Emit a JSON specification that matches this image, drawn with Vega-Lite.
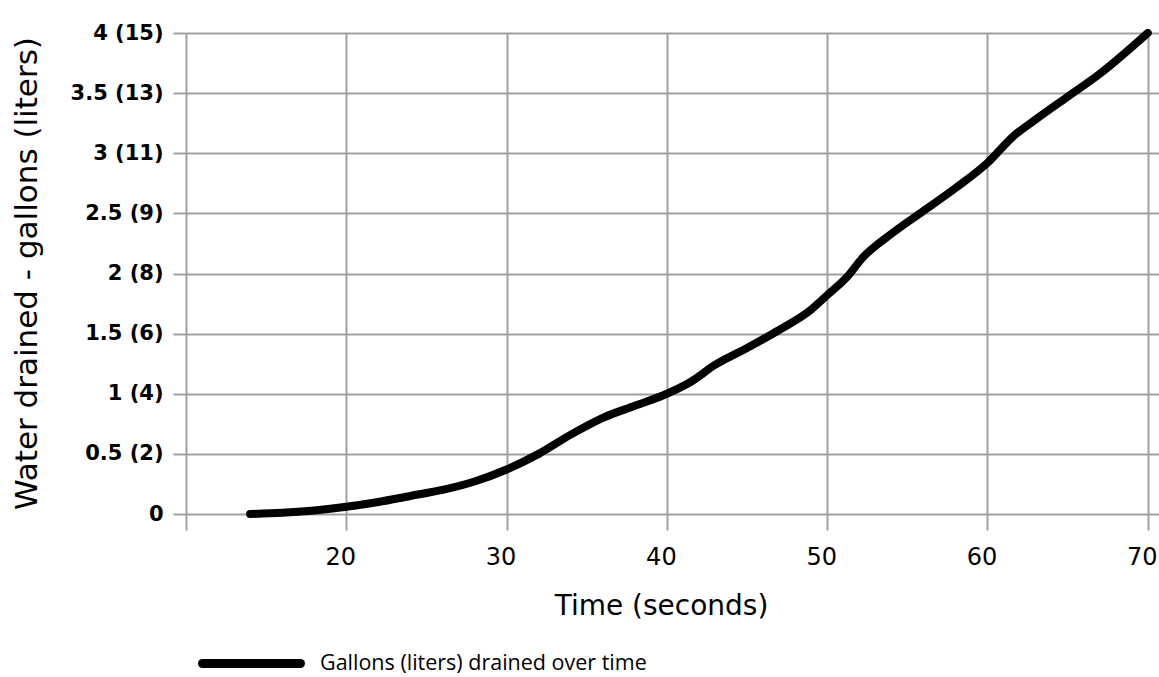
{
  "$schema": "https://vega.github.io/schema/vega-lite/v6.json",
  "autosize": {"type": "none"},
  "padding": {"left": 186, "top": 33, "right": 0, "bottom": 163},
  "width": 973,
  "height": 481,
  "background": "#ffffff",
  "config": {
    "view": {"stroke": null},
    "font": "DejaVu Sans"
  },
  "data": {
    "values": [
      {"time": 14, "gallons": 0, "series": "Gallons (liters) drained over time"},
      {"time": 16, "gallons": 0.01, "series": "Gallons (liters) drained over time"},
      {"time": 18, "gallons": 0.03, "series": "Gallons (liters) drained over time"},
      {"time": 20, "gallons": 0.06, "series": "Gallons (liters) drained over time"},
      {"time": 22, "gallons": 0.1, "series": "Gallons (liters) drained over time"},
      {"time": 24, "gallons": 0.15, "series": "Gallons (liters) drained over time"},
      {"time": 26, "gallons": 0.2, "series": "Gallons (liters) drained over time"},
      {"time": 28, "gallons": 0.27, "series": "Gallons (liters) drained over time"},
      {"time": 30, "gallons": 0.37, "series": "Gallons (liters) drained over time"},
      {"time": 32, "gallons": 0.5, "series": "Gallons (liters) drained over time"},
      {"time": 34, "gallons": 0.66, "series": "Gallons (liters) drained over time"},
      {"time": 36, "gallons": 0.8, "series": "Gallons (liters) drained over time"},
      {"time": 38, "gallons": 0.9, "series": "Gallons (liters) drained over time"},
      {"time": 40, "gallons": 1.0, "series": "Gallons (liters) drained over time"},
      {"time": 41.5, "gallons": 1.1, "series": "Gallons (liters) drained over time"},
      {"time": 43, "gallons": 1.24, "series": "Gallons (liters) drained over time"},
      {"time": 45, "gallons": 1.38, "series": "Gallons (liters) drained over time"},
      {"time": 47, "gallons": 1.53, "series": "Gallons (liters) drained over time"},
      {"time": 49, "gallons": 1.7, "series": "Gallons (liters) drained over time"},
      {"time": 50, "gallons": 1.82, "series": "Gallons (liters) drained over time"},
      {"time": 51.3, "gallons": 1.98, "series": "Gallons (liters) drained over time"},
      {"time": 52.2, "gallons": 2.13, "series": "Gallons (liters) drained over time"},
      {"time": 54, "gallons": 2.33, "series": "Gallons (liters) drained over time"},
      {"time": 56, "gallons": 2.52, "series": "Gallons (liters) drained over time"},
      {"time": 58, "gallons": 2.71, "series": "Gallons (liters) drained over time"},
      {"time": 60, "gallons": 2.92, "series": "Gallons (liters) drained over time"},
      {"time": 61.6, "gallons": 3.14, "series": "Gallons (liters) drained over time"},
      {"time": 63, "gallons": 3.28, "series": "Gallons (liters) drained over time"},
      {"time": 65, "gallons": 3.47, "series": "Gallons (liters) drained over time"},
      {"time": 67, "gallons": 3.66, "series": "Gallons (liters) drained over time"},
      {"time": 70, "gallons": 4.0, "series": "Gallons (liters) drained over time"}
    ]
  },
  "mark": {"type": "line", "interpolate": "monotone", "strokeWidth": 8, "strokeCap": "round", "strokeJoin": "round"},
  "encoding": {
    "x": {
      "field": "time",
      "type": "quantitative",
      "scale": {"domain": [10, 70.7], "nice": false, "zero": false},
      "axis": {
        "title": "Time (seconds)",
        "values": [10, 20, 30, 40, 50, 60, 70],
        "labelExpr": "datum.value == 10 ? '' : datum.label",
        "domain": false,
        "grid": true,
        "gridColor": "#a0a0a0",
        "gridWidth": 2,
        "gridOpacity": 1,
        "tickColor": "#a0a0a0",
        "tickWidth": 2,
        "tickSize": 16,
        "labelFont": "DejaVu Sans",
        "labelFontSize": 24,
        "labelColor": "#000000",
        "labelPadding": 15,
        "labelOffset": -6,
        "labelFlush": false,
        "titleFont": "DejaVu Sans",
        "titleFontSize": 28,
        "titleFontWeight": "normal",
        "titleColor": "#000000",
        "titleX": 475,
        "titleY": 92,
        "titleBaseline": "middle"
      }
    },
    "y": {
      "field": "gallons",
      "type": "quantitative",
      "scale": {"domain": [0, 4], "nice": false},
      "axis": {
        "title": "Water drained - gallons (liters)",
        "values": [0, 0.5, 1, 1.5, 2, 2.5, 3, 3.5, 4],
        "labelExpr": "{'0': '0', '0.5': '0.5 (2)', '1': '1 (4)', '1.5': '1.5 (6)', '2': '2 (8)', '2.5': '2.5 (9)', '3': '3 (11)', '3.5': '3.5 (13)', '4': '4 (15)'}[toString(datum.value)]",
        "domain": false,
        "grid": true,
        "gridColor": "#a0a0a0",
        "gridWidth": 2,
        "gridOpacity": 1,
        "tickColor": "#a0a0a0",
        "tickWidth": 2,
        "tickSize": 13,
        "labelFont": "DejaVu Sans",
        "labelFontSize": 21,
        "labelFontWeight": "bold",
        "labelColor": "#000000",
        "labelPadding": 10,
        "labelFlush": false,
        "titleFont": "DejaVu Sans",
        "titleFontSize": 31,
        "titleFontWeight": "normal",
        "titleColor": "#000000",
        "titleX": -159,
        "titleY": 240,
        "titleBaseline": "middle",
        "titleAngle": -90
      }
    },
    "color": {
      "field": "series",
      "type": "nominal",
      "scale": {"domain": ["Gallons (liters) drained over time"], "range": ["#000000"]},
      "legend": {
        "title": null,
        "orient": "none",
        "legendX": 12,
        "legendY": 577,
        "padding": 0,
        "symbolType": "stroke",
        "symbolSize": 9604,
        "symbolStrokeWidth": 9,
        "labelFont": "Open Sans",
        "labelFontSize": 21.5,
        "labelColor": "#000000",
        "labelLimit": 600,
        "labelOffset": 15,
        "encode": {
          "symbols": {"update": {"strokeCap": {"value": "round"}}}
        }
      }
    }
  }
}
